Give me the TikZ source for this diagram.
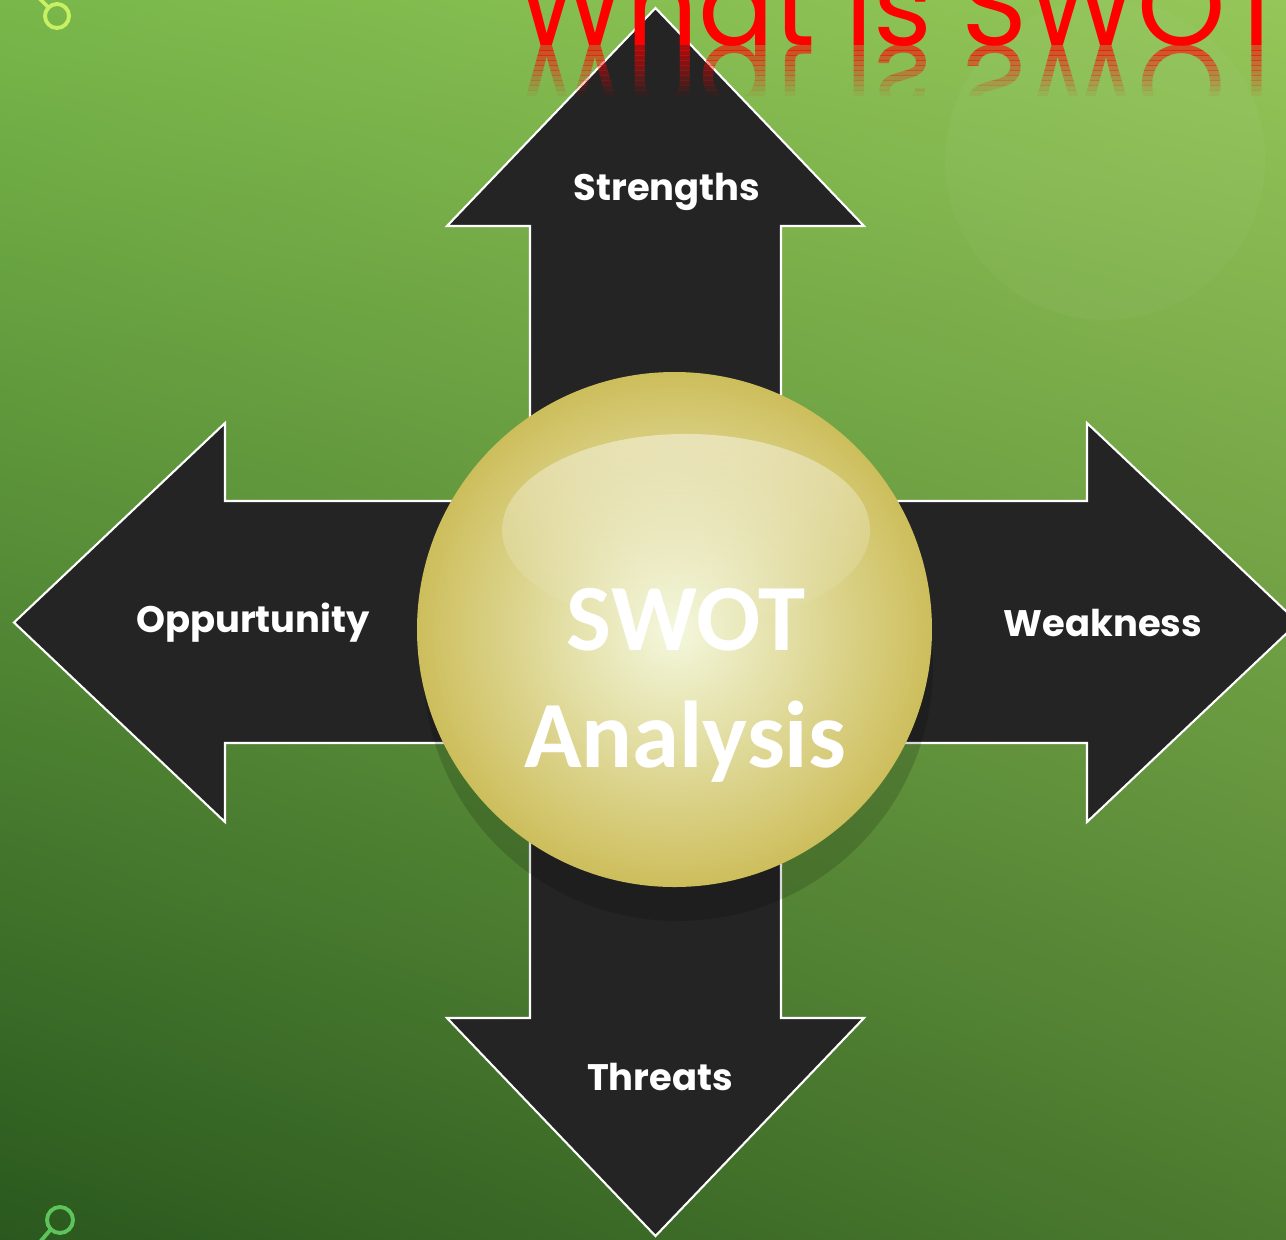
\documentclass[tikz,border=0pt]{standalone}
\usepackage{fontspec}
\setmainfont{Carlito}
\newfontfamily\titlefont{Poppins}
\usetikzlibrary{fadings,shadings}
\definecolor{bgul}{HTML}{79B74A}
\definecolor{bgur}{HTML}{95C659}
\definecolor{bgll}{HTML}{2A581E}
\definecolor{bglr}{HTML}{4C7B2F}
\definecolor{arrowfill}{HTML}{242424}
\definecolor{ballout}{HTML}{CDBE5C}
\definecolor{ballin}{HTML}{F4F8DE}
\definecolor{ringtop}{HTML}{C8F064}
\definecolor{ringbot}{HTML}{5CC45A}
\tikzset{
	label/.style={text=white, font=\titlefont\bfseries\fontsize{10.5}{13}\selectfont, anchor=base},
	big/.style={text=white, font=\bfseries\fontsize{27}{33}\selectfont, anchor=base},
	ring/.style={line width=1.1pt},
	titletext/.style={anchor=base west, inner sep=0, text=red, font=\titlefont\fontsize{32}{32}\selectfont}
}

\begin{document}
\begin{tikzpicture}
	\useasboundingbox (0,0) rectangle (12.86,-12.40);
	\clip (0,0) rectangle (12.86,-12.40);
	\shade[upper left=bgul, upper right=bgur, lower left=bgll, lower right=bglr] (0,0) rectangle (12.86,-12.40);
	\fill[white, opacity=0.03] (11.05,-1.6) circle (1.6);
	\draw[ring, ringtop] (0.57,-0.16) circle (0.12);
	\draw[ring, ringtop] (0.485,-0.075) -- (0.38,0.03);
	\draw[ring, ringbot] (0.60,-12.20) circle (0.13);
	\draw[ring, ringbot] (0.51,-12.29) -- (0.40,-12.42);
	\draw[white, line width=0.6pt, fill=arrowfill] (6.555,-0.08) -- (8.64,-2.26) -- (7.81,-2.26) -- (7.81,-5.01) -- (10.87,-5.01) -- (10.87,-4.23) -- (12.98,-6.225) -- (10.87,-8.22) -- (10.87,-7.43) -- (7.81,-7.43) -- (7.81,-10.18) -- (8.64,-10.18) -- (6.555,-12.36) -- (4.47,-10.18) -- (5.30,-10.18) -- (5.30,-7.43) -- (2.25,-7.43) -- (2.25,-8.22) -- (0.14,-6.225) -- (2.25,-4.23) -- (2.25,-5.01) -- (5.30,-5.01) -- (5.30,-2.26) -- (4.47,-2.26) -- cycle;
	\node (s) [label] at (6.67,-2.00) {Strengths};
	\node (o) [label] at (2.53,-6.32) {Oppurtunity};
	\node (w) [label] at (11.03,-6.36) {Weakness};
	\node (t) [label] at (6.60,-10.90) {Threats};
	\fill[black, opacity=0.15] (6.78,-6.66) circle (2.55);
	\node (ball) [circle, minimum size=5.15cm, inner sep=0, inner color=ballin, outer color=ballout] at (6.745,-6.295) {};
	\fill[white, opacity=0.45, path fading=south] (6.86,-5.30) ellipse (1.84 and 0.96);
	\node (swot) [big] at (6.86,-6.50) {SWOT};
	\node (analysis) [big] at (6.85,-7.67) {Analysis};
	\node (title) [titletext] at (5.16,-0.45) {What is SWOT};
	\foreach \k in {0,...,9} {
		\begin{scope}
			\clip (5,{-0.45-\k*0.05}) rectangle (12.86,{-0.50-\k*0.05});
			\node (refl\k) [titletext, yscale=-1, transform shape, text opacity={0.6-\k*0.06}] at (5.16,-0.45) {What is SWOT};
		\end{scope}
	}
\end{tikzpicture}
\end{document}
